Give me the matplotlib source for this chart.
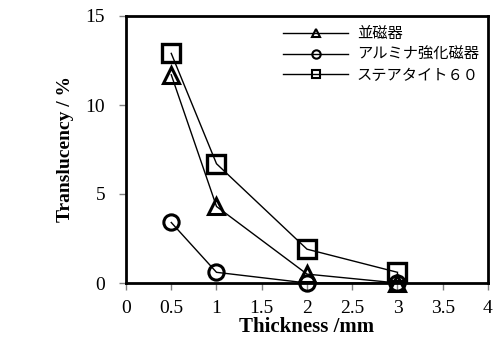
import matplotlib
matplotlib.use("Agg")
import matplotlib.pyplot as plt

thickness = [0.5, 1, 2, 3]
nami = [11.7, 4.3, 0.5, 0.0]
alumina = [3.4, 0.6, 0.0, 0.0]
steatite = [12.9, 6.7, 1.9, 0.6]
names = ["並磁器", "アルミナ強化磁器", "ステアタイト６０"]

xticks = [0, 0.5, 1, 1.5, 2, 2.5, 3, 3.5, 4]
xticklabels = ["0", "0.5", "1", "1.5", "2", "2.5", "3", "3.5", "4"]
yticks = [0, 5, 10, 15]

fig = plt.figure(figsize=(4.99, 3.51), dpi=100)
ax = fig.add_axes([126 / 499, 1 - 283 / 351, (488 - 126) / 499, (283 - 16) / 351])

ax.plot(thickness, nami, color="black", lw=1, marker="^", ms=11,
        mfc="none", mec="black", mew=2.2, label=names[0], clip_on=False)
ax.plot(thickness, alumina, color="black", lw=1, marker="o", ms=11,
        mfc="none", mec="black", mew=2.2, label=names[1], clip_on=False)
ax.plot(thickness, steatite, color="black", lw=1, marker="s", ms=13,
        mfc="none", mec="black", mew=2.4, label=names[2], clip_on=False)

ax.set_xlim(0, 4)
ax.set_ylim(0, 15)
ax.set_xticks(xticks)
ax.set_xticklabels(xticklabels)
ax.set_yticks(yticks)
for sp in ax.spines.values():
    sp.set_linewidth(2)
ax.tick_params(direction="out", length=5, width=1, color="gray",
               labelsize=14, pad=10)
ax.tick_params(axis="x", pad=7)
for lab in ax.get_xticklabels() + ax.get_yticklabels():
    lab.set_family("Liberation Serif")

ax.set_xlabel("Thickness /mm", family="Liberation Serif", fontsize=15,
              fontweight="bold", labelpad=0)
ax.set_ylabel("Translucency / %", family="Liberation Serif", fontsize=14,
              fontweight="bold", labelpad=8)

leg = ax.legend(loc="upper right", bbox_to_anchor=(1.0, 1.0), frameon=False,
                prop={"family": ["Noto Sans CJK JP", "DejaVu Sans"], "size": 11},
                handlelength=4.2, handletextpad=0.6, labelspacing=0.25,
                borderaxespad=0.2)
for h in leg.legend_handles:
    h.set_markersize(6)
    h.set_markeredgewidth(1.5)

fig.savefig("out.png", dpi=100)
